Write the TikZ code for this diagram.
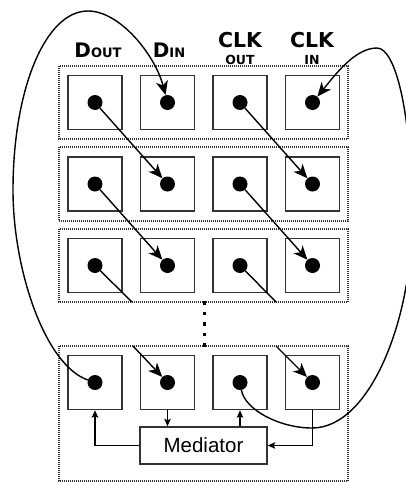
\documentclass[tikz,border=0pt]{standalone}
\usepackage{fontspec}
\newfontfamily\labelfont{DejaVu Sans}
\newfontfamily\medfont{Liberation Sans}
\usetikzlibrary{arrows.meta,calc}

\tikzset{
  cell/.style={draw=black!80, line width=1.5pt, minimum width=54pt, minimum height=54pt, inner sep=0pt},
  pin/.style={circle, fill=black, minimum size=15pt, inner sep=0pt},
  rowbox/.style={draw=black!80, line width=1.1pt, dash pattern=on 1pt off 1pt},
  wire/.style={line width=1.4pt, draw=black},
  bigtip/.style={-{Stealth[length=14pt,width=12pt,inset=4pt]}},
  smalltip/.style={-{Stealth[length=7.5pt,width=6.5pt,inset=1.5pt]}},
  medbox/.style={draw=black!80, line width=1.5pt, minimum width=127pt, minimum height=37pt, inner sep=0pt, font=\medfont\fontsize{20.5}{22}\selectfont},
  collabel/.style={anchor=base, inner sep=0pt, font=\labelfont\bfseries},
}

\begin{document}
\begin{tikzpicture}[x=1pt,y=-1pt]
\useasboundingbox (0,0) rectangle (406,482);
\clip (0,0) rectangle (406,482);

% dotted row frames
\draw[rowbox] (59,66) rectangle (348,139);
\draw[rowbox] (59,147) rectangle (348,221);
\draw[rowbox] (59,229) rectangle (348,302);
\draw[rowbox] (59,346) rectangle (348,481);

% column headings
\node[collabel] (ldout) at (98,57) {\fontsize{20}{20}\selectfont D\fontsize{13}{13}\selectfont OUT};
\node[collabel] (ldin) at (169,57) {\fontsize{20}{20}\selectfont D\fontsize{13}{13}\selectfont IN};
\node[collabel] (lclko) at (240,47.5) {\fontsize{20.5}{20.5}\selectfont CLK};
\node[collabel] (lclkos) at (240,64) {\fontsize{12.5}{12.5}\selectfont OUT};
\node[collabel] (lclki) at (312,47.5) {\fontsize{20.5}{20.5}\selectfont CLK};
\node[collabel] (lclkis) at (312,64) {\fontsize{12.5}{12.5}\selectfont IN};

% cells with their pins
\foreach \r/\y in {1/102.5, 2/184, 3/265.5, 4/382.5}{
  \foreach \c/\x in {1/95, 2/167.5, 3/240, 4/312.5}{
    \node[cell] (c\r\c) at (\x,\y) {};
    \node[pin] (p\r\c) at (\x,\y) {};
  }
}

% vertical ellipsis between the rows
\foreach \yy in {303,313.5,324,334.5,345}
  \fill[black] (202.5,\yy-1.6) rectangle (205.7,\yy+1.6);

% mediator
\node[medbox] (med) at (203.5,445.5) {Mediator};

% data and clock chains
\draw[wire,bigtip] (p11) -- (p22);
\draw[wire,bigtip] (p13) -- (p24);
\draw[wire,bigtip] (p21) -- (p32);
\draw[wire,bigtip] (p23) -- (p34);

\coordinate (d3a) at (132,302);
\coordinate (d4a) at (133,346);
\coordinate (k3a) at (276,302);
\coordinate (k4a) at (276,346);
\draw[wire] (p31) -- (d3a);
\draw[wire] (p33) -- (k3a);
\draw[wire,bigtip] (d4a) -- (p42);
\draw[wire,bigtip] (k4a) -- (p44);

% links to the mediator
\draw[wire,smalltip] (c42.south) -- (c42.south |- med.north);
\draw[wire,smalltip] (c43.south |- med.north) -- (c43.south);
\draw[wire,smalltip] (med.west) -| (c41.south);
\draw[wire,smalltip] (c44.south) |- (med.east);

% feedback loops to the first row
\draw[wire,bigtip] (p41) .. controls (45,365) and (13,270) .. (13,190)
  .. controls (13,90) and (45,11) .. (88,11)
  .. controls (120,11) and (155,55) .. (p12);
\draw[wire,bigtip] (p43) .. controls (245,410) and (280,428) .. (312,428)
  .. controls (370,428) and (412,320) .. (412,220)
  .. controls (412,110) and (395,48) .. (377,48)
  .. controls (355,48) and (335,75) .. (p14);
\end{tikzpicture}
\end{document}
